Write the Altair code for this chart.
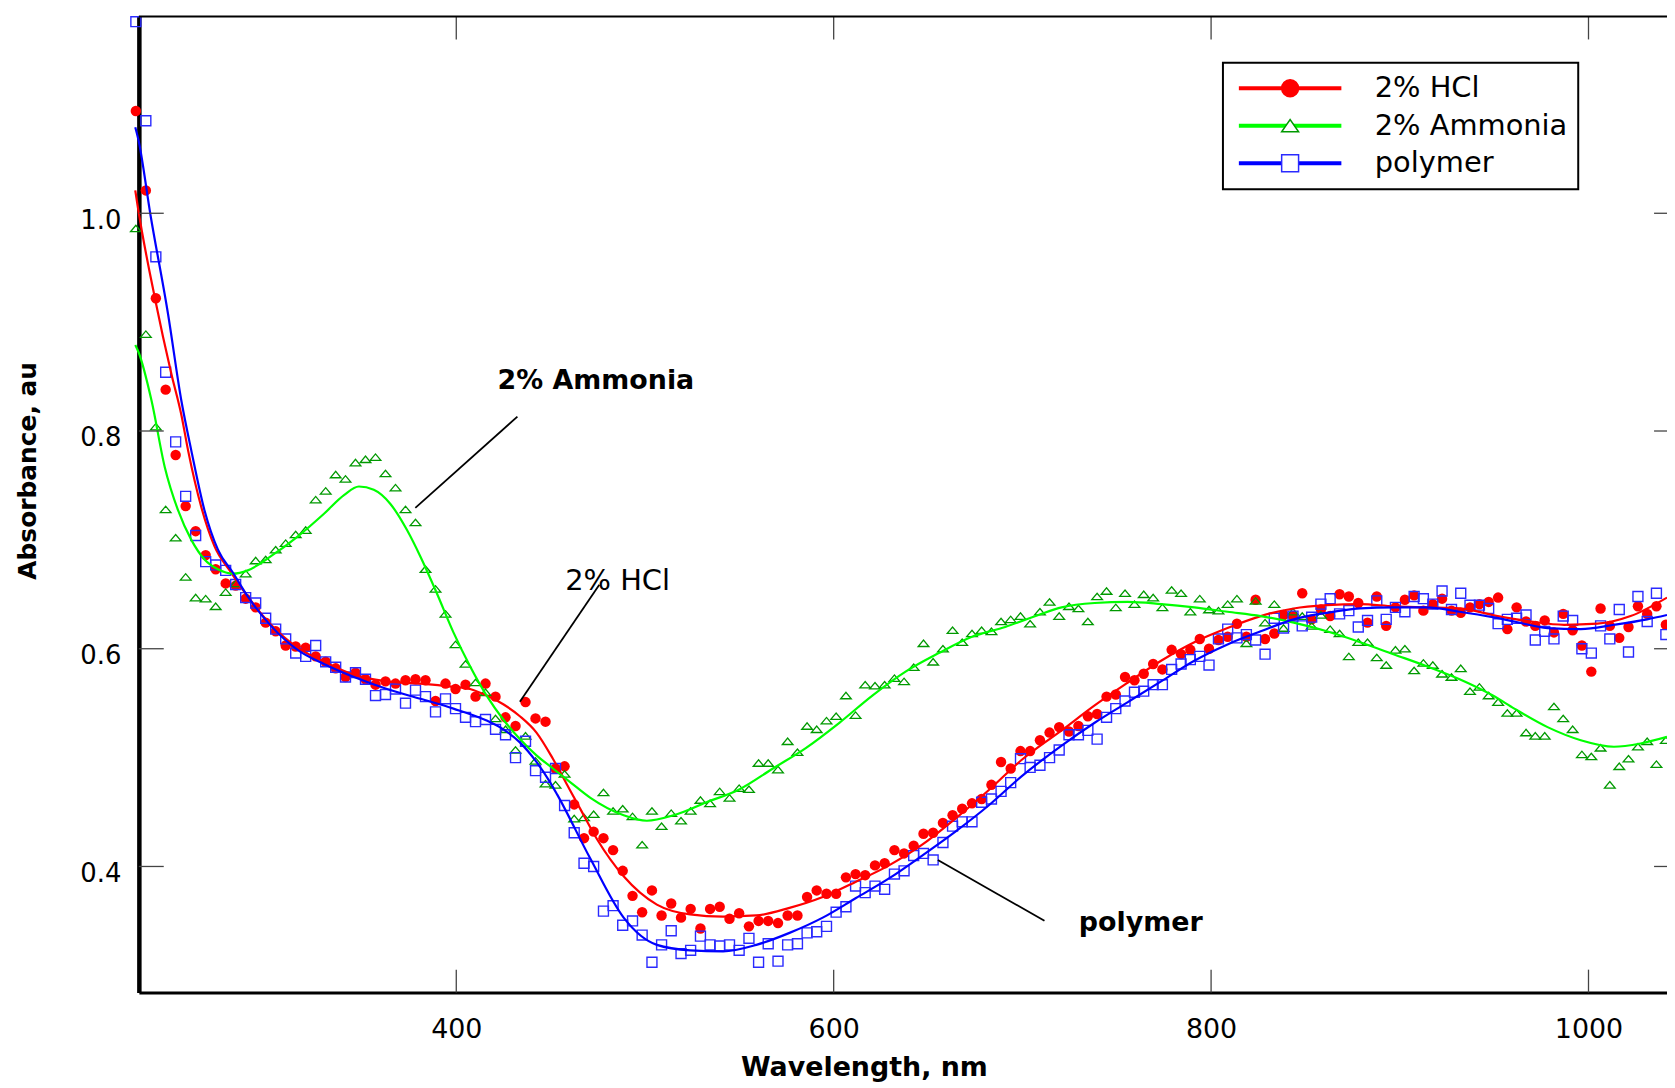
import altair as alt
import pandas as pd

# ---------------- data ----------------
wavelength_nm = [
    230.2, 235.5, 240.8, 246.0, 251.3, 256.6, 261.9, 267.2, 272.5, 277.8,
    283.1, 288.4, 293.7, 299.0, 304.3, 309.6, 314.9, 320.2, 325.5, 330.8,
    336.1, 341.3, 346.6, 351.9, 357.2, 362.5, 367.8, 373.1, 378.4, 383.7,
    389.0, 394.3, 399.6, 404.9, 410.2, 415.5, 420.8, 426.1, 431.4, 436.7,
    442.0, 447.3, 452.6, 457.4, 462.5, 467.7, 472.8, 478.0, 483.1, 488.2,
    493.4, 498.5, 503.7, 508.8, 513.9, 519.1, 524.2, 529.4, 534.5, 539.6,
    544.8, 549.9, 555.1, 560.2, 565.3, 570.5, 575.6, 580.8, 585.9, 591.0,
    596.2, 601.3, 606.5, 611.6, 616.7, 621.9, 627.0, 632.2, 637.3, 642.4,
    647.6, 652.7, 657.9, 663.0, 668.1, 673.3, 678.4, 683.6, 688.7, 693.8,
    699.0, 704.1, 709.3, 714.4, 719.5, 724.7, 729.7, 734.7, 739.6, 744.6,
    749.5, 754.4, 759.4, 764.3, 769.3, 774.2, 779.1, 784.1, 789.0, 794.0,
    798.9, 803.9, 808.8, 813.7, 818.7, 823.6, 828.6, 833.5, 838.4, 843.4,
    848.3, 853.3, 858.2, 863.1, 868.1, 873.0, 878.0, 882.9, 887.8, 892.8,
    897.7, 902.7, 907.6, 912.5, 917.5, 922.4, 927.4, 932.3, 937.2, 942.2,
    947.1, 952.1, 957.0, 961.9, 966.9, 971.8, 976.8, 981.7, 986.6, 991.6,
    996.5, 1001.5, 1006.4, 1011.3, 1016.3, 1021.2, 1026.2, 1031.1, 1036.0, 1041.0,
]

hcl_abs = [
    1.094, 1.021, 0.922, 0.838, 0.778, 0.731, 0.708, 0.686, 0.673, 0.660,
    0.658, 0.646, 0.638, 0.624, 0.616, 0.603, 0.602, 0.601, 0.593, 0.588,
    0.582, 0.574, 0.578, 0.572, 0.567, 0.570, 0.568, 0.571, 0.572, 0.571,
    0.552, 0.568, 0.563, 0.567, 0.556, 0.568, 0.556, 0.537, 0.529, 0.551,
    0.536, 0.533, 0.490, 0.492, 0.457, 0.426, 0.432, 0.426, 0.415, 0.396,
    0.373, 0.358, 0.378, 0.355, 0.366, 0.353, 0.361, 0.343, 0.361, 0.363,
    0.352, 0.357, 0.345, 0.350, 0.350, 0.348, 0.355, 0.355, 0.372, 0.378,
    0.375, 0.375, 0.390, 0.393, 0.392, 0.401, 0.403, 0.415, 0.412, 0.419,
    0.430, 0.431, 0.440, 0.447, 0.453, 0.458, 0.462, 0.475, 0.496, 0.490,
    0.506, 0.506, 0.516, 0.523, 0.528, 0.524, 0.529, 0.538, 0.540, 0.556,
    0.558, 0.574, 0.571, 0.577, 0.586, 0.581, 0.599, 0.595, 0.599, 0.609,
    0.600, 0.608, 0.611, 0.623, 0.611, 0.645, 0.609, 0.614, 0.631, 0.630,
    0.651, 0.627, 0.636, 0.630, 0.650, 0.648, 0.642, 0.624, 0.648, 0.621,
    0.638, 0.645, 0.649, 0.635, 0.641, 0.646, 0.635, 0.633, 0.638, 0.641,
    0.643, 0.647, 0.618, 0.638, 0.625, 0.621, 0.626, 0.615, 0.632, 0.617,
    0.603, 0.579, 0.637, 0.621, 0.610, 0.620, 0.639, 0.632, 0.639, 0.622,
]

ammonia_abs = [
    0.986, 0.889, 0.804, 0.728, 0.702, 0.666, 0.647, 0.646, 0.639, 0.652,
    0.660, 0.669, 0.681, 0.682, 0.691, 0.697, 0.705, 0.709, 0.737, 0.745,
    0.760, 0.756, 0.771, 0.774, 0.776, 0.761, 0.748, 0.728, 0.716, 0.673,
    0.655, 0.632, 0.604, 0.586, 0.569, 0.560, 0.536, 0.526, 0.507, 0.520,
    0.497, 0.476, 0.475, 0.485, 0.444, 0.445, 0.448, 0.468, 0.451, 0.453,
    0.446, 0.420, 0.451, 0.437, 0.449, 0.442, 0.451, 0.461, 0.458, 0.469,
    0.463, 0.472, 0.471, 0.495, 0.495, 0.489, 0.515, 0.505, 0.529, 0.526,
    0.534, 0.538, 0.557, 0.539, 0.567, 0.566, 0.567, 0.573, 0.570, 0.583,
    0.605, 0.588, 0.600, 0.617, 0.606, 0.614, 0.617, 0.616, 0.625, 0.627,
    0.630, 0.623, 0.634, 0.643, 0.630, 0.639, 0.637, 0.625, 0.648, 0.653,
    0.638, 0.651, 0.641, 0.650, 0.647, 0.638, 0.654, 0.651, 0.634, 0.646,
    0.636, 0.635, 0.641, 0.646, 0.605, 0.644, 0.624, 0.641, 0.619, 0.634,
    0.630, 0.621, 0.631, 0.618, 0.614, 0.593, 0.606, 0.606, 0.592, 0.585,
    0.599, 0.600, 0.580, 0.587, 0.585, 0.577, 0.574, 0.582, 0.561, 0.565,
    0.557, 0.551, 0.541, 0.541, 0.523, 0.520, 0.520, 0.547, 0.536, 0.526,
    0.503, 0.501, 0.509, 0.475, 0.492, 0.499, 0.510, 0.515, 0.494, 0.516,
]

polymer_abs = [
    1.176, 1.085, 0.960, 0.854, 0.790, 0.740, 0.704, 0.680, 0.677, 0.672,
    0.659, 0.647, 0.642, 0.628, 0.618, 0.609, 0.596, 0.593, 0.603, 0.588,
    0.583, 0.574, 0.578, 0.572, 0.557, 0.558, 0.563, 0.550, 0.562, 0.556,
    0.542, 0.554, 0.545, 0.537, 0.533, 0.535, 0.526, 0.521, 0.500, 0.515,
    0.488, 0.482, 0.490, 0.456, 0.431, 0.403, 0.400, 0.359, 0.364, 0.346,
    0.350, 0.337, 0.312, 0.328, 0.341, 0.320, 0.323, 0.336, 0.328, 0.327,
    0.328, 0.323, 0.334, 0.312, 0.329, 0.313, 0.328, 0.329, 0.339, 0.340,
    0.345, 0.358, 0.363, 0.382, 0.376, 0.382, 0.379, 0.393, 0.396, 0.410,
    0.412, 0.406, 0.422, 0.437, 0.441, 0.441, 0.459, 0.462, 0.469, 0.477,
    0.499, 0.491, 0.493, 0.500, 0.507, 0.521, 0.521, 0.525, 0.517, 0.537,
    0.545, 0.552, 0.560, 0.561, 0.567, 0.567, 0.581, 0.586, 0.590, 0.593,
    0.585, 0.609, 0.618, 0.610, 0.613, 0.608, 0.595, 0.628, 0.619, 0.630,
    0.621, 0.629, 0.641, 0.646, 0.632, 0.635, 0.620, 0.626, 0.644, 0.627,
    0.638, 0.634, 0.648, 0.646, 0.641, 0.653, 0.636, 0.651, 0.640, 0.640,
    0.637, 0.623, 0.627, 0.628, 0.631, 0.608, 0.616, 0.609, 0.630, 0.626,
    0.600, 0.596, 0.621, 0.609, 0.636, 0.597, 0.648, 0.625, 0.651, 0.613,
]

# smooth fitted curves
hcl_fit_nm = [229.9, 231.5, 240.3, 249.1, 254.3, 257.9, 264.9, 271.9, 280.7, 289.5,
              301.8, 315.9, 329.9, 345.8, 363.3, 381.0, 398.5, 407.3, 416.1, 424.9,
              433.7, 442.5, 451.2, 460.0, 466.0, 474.6, 488.7, 506.3, 523.9, 541.4,
              559.0, 576.6, 594.2, 611.8, 629.3, 646.9, 664.5, 682.1, 699.7, 720.8,
              738.3, 755.9, 773.5, 791.1, 808.7, 826.3, 843.8, 861.4, 879.0, 896.6,
              914.2, 931.7, 951.9, 969.5, 987.1, 1004.7, 1022.3, 1041.6]
hcl_fit_abs = [1.021, 1.003, 0.922, 0.852, 0.815, 0.782, 0.730, 0.694, 0.670, 0.648,
               0.622, 0.601, 0.588, 0.576, 0.570, 0.568, 0.565, 0.563, 0.557, 0.549,
               0.538, 0.523, 0.499, 0.471, 0.452, 0.425, 0.391, 0.365, 0.356, 0.354,
               0.355, 0.362, 0.372, 0.386, 0.401, 0.420, 0.444, 0.470, 0.498, 0.525,
               0.548, 0.569, 0.589, 0.606, 0.619, 0.630, 0.637, 0.640, 0.641, 0.639,
               0.638, 0.637, 0.630, 0.625, 0.622, 0.623, 0.630, 0.647]

ammonia_fit_nm = [229.9, 231.5, 238.5, 245.5, 252.6, 259.6, 266.6, 273.7, 281.6, 289.5,
                  301.8, 315.9, 329.9, 340.5, 348.4, 356.3, 365.1, 373.9, 380.9, 389.7,
                  398.5, 407.3, 416.1, 424.9, 433.7, 442.5, 451.2, 460.0, 471.1, 488.7,
                  501.0, 515.1, 532.6, 550.2, 567.8, 585.4, 603.0, 620.5, 638.1, 655.7,
                  673.3, 690.9, 708.5, 720.8, 738.3, 755.9, 773.5, 791.1, 808.7, 826.3,
                  843.8, 861.4, 879.0, 896.6, 914.2, 931.7, 949.3, 960.7, 978.3, 995.9,
                  1013.5, 1027.6, 1041.6]
ammonia_fit_abs = [0.879, 0.873, 0.828, 0.767, 0.727, 0.700, 0.682, 0.673, 0.669, 0.672,
                   0.685, 0.703, 0.724, 0.741, 0.749, 0.746, 0.733, 0.709, 0.685, 0.651,
                   0.615, 0.584, 0.557, 0.535, 0.517, 0.502, 0.490, 0.478, 0.463, 0.447,
                   0.442, 0.447, 0.459, 0.471, 0.490, 0.509, 0.532, 0.557, 0.579, 0.596,
                   0.611, 0.620, 0.631, 0.638, 0.642, 0.643, 0.641, 0.638, 0.634, 0.630,
                   0.624, 0.616, 0.606, 0.595, 0.584, 0.572, 0.557, 0.545, 0.528, 0.516,
                   0.510, 0.513, 0.519]

polymer_fit_nm = [229.9, 231.5, 238.0, 247.3, 254.3, 259.6, 266.6, 273.7, 281.6, 289.5,
                  301.8, 315.9, 329.9, 345.8, 363.3, 381.0, 398.5, 416.1, 424.9, 433.7,
                  442.5, 449.5, 453.5, 471.1, 488.7, 506.3, 523.9, 541.4, 559.0, 576.6,
                  594.2, 611.8, 629.3, 646.9, 664.5, 682.1, 699.7, 720.8, 738.3, 755.9,
                  773.5, 791.1, 808.7, 826.3, 843.8, 861.4, 879.0, 896.6, 914.2, 931.7,
                  949.3, 960.7, 978.3, 995.9, 1013.5, 1031.1, 1041.6]
polymer_fit_abs = [1.079, 1.068, 0.998, 0.907, 0.828, 0.782, 0.727, 0.691, 0.670, 0.648,
                   0.621, 0.599, 0.586, 0.574, 0.563, 0.554, 0.545, 0.534, 0.526, 0.514,
                   0.496, 0.478, 0.466, 0.407, 0.353, 0.328, 0.323, 0.322, 0.328, 0.339,
                   0.353, 0.371, 0.389, 0.410, 0.432, 0.456, 0.483, 0.511, 0.532, 0.551,
                   0.570, 0.589, 0.604, 0.616, 0.627, 0.633, 0.637, 0.638, 0.638, 0.634,
                   0.629, 0.625, 0.619, 0.618, 0.622, 0.627, 0.631]

series_names = ["2% HCl", "2% Ammonia", "polymer"]
line_colors = ["#ff0000", "#00ff00", "#0000ff"]
marker_keys = ["hcl-marker", "ammonia-marker", "polymer-marker"]
marker_shapes = ["circle", "M-1,0.72L1,0.72L0,-0.72Z", "square"]
marker_strokes = ["#ff0000", "#009900", "#2a2aff"]
marker_fills = ["#ff0000", "#ffffff", "#ffffff"]

x_ticks = [400, 600, 800, 1000]
y_ticks = [0.4, 0.6, 0.8, 1.0]

ann_text = ["2% Ammonia", "2% HCl", "polymer"]
ann_nm = [474.0, 485.5, 762.7]
ann_abs = [0.8388, 0.6542, 0.3407]
ptr_nm = [432.4, 475.8, 655.2]
ptr_abs = [0.8132, 0.6588, 0.4059]
ptr_nm2 = [378.3, 433.7, 711.7]
ptr_abs2 = [0.7294, 0.5512, 0.3501]

# ---------------- layout ----------------
X_DOMAIN = [231.8, 1041.6]
Y_DOMAIN = [0.2842, 1.1807]
W = 1535.5
H = 980.7
FONT = "DejaVu Sans"

xs = alt.Scale(domain=X_DOMAIN, nice=False, zero=False)
ys = alt.Scale(domain=Y_DOMAIN, nice=False, zero=False)

x_axis = alt.Axis(values=x_ticks, format="d", ticks=False, tickSize=0, grid=False,
                  labelFont=FONT, labelFontSize=27, labelColor="black",
                  labelBaseline="alphabetic", labelPadding=45, labelFlush=False,
                  domainColor="black", domainWidth=3,
                  title="Wavelength, nm", titleFont=FONT, titleFontSize=27,
                  titleFontWeight="bold", titleColor="black",
                  titleX=728.5, titleY=83.5, titleBaseline="alphabetic", titleAlign="center")
y_axis = alt.Axis(values=y_ticks, format=".1f", ticks=False, tickSize=0, grid=False,
                  labelFont=FONT, labelFontSize=26, labelColor="black",
                  labelBaseline="alphabetic", labelOffset=15, labelPadding=18,
                  domainColor="black", domainWidth=4.5,
                  title="Absorbance, au", titleFont=FONT, titleFontSize=25,
                  titleFontWeight="bold", titleColor="black", titleAngle=270,
                  titleX=-104, titleY=456, titleBaseline="alphabetic", titleAlign="center")


def X(field):
    return alt.X(field, scale=xs, axis=x_axis)


def Y(field):
    return alt.Y(field, scale=ys, axis=y_axis)


def pts(vals):
    return pd.DataFrame({"nm": wavelength_nm, "abs": vals})


# markers
hcl_pts = alt.Chart(pts(hcl_abs)).mark_point(
    shape="circle", filled=True, color="#ff0000", size=110, opacity=1
).encode(x=X("nm:Q"), y=Y("abs:Q"))

amm_pts = alt.Chart(pts(ammonia_abs)).mark_point(
    shape="M-1,0.6L1,0.6L0,-0.6Z", filled=False, stroke="#009900", strokeWidth=1.3,
    size=115, opacity=1
).encode(x=X("nm:Q"), y=Y("abs:Q"))

pol_pts = alt.Chart(pts(polymer_abs)).mark_point(
    shape="square", filled=False, stroke="#2a2aff", strokeWidth=1.4, size=100, opacity=1
).encode(x=X("nm:Q"), y=Y("abs:Q"))

# fitted curves
fit_df = pd.concat([
    pd.DataFrame({"nm": hcl_fit_nm, "abs": hcl_fit_abs, "series": series_names[0]}),
    pd.DataFrame({"nm": ammonia_fit_nm, "abs": ammonia_fit_abs, "series": series_names[1]}),
    pd.DataFrame({"nm": polymer_fit_nm, "abs": polymer_fit_abs, "series": series_names[2]}),
])

legend_common = dict(orient="none", legendX=1089.3, legendY=46.5, title=None,
                     padding=10, clipHeight=31.2, rowPadding=5.65,
                     labelFont=FONT, labelFontSize=29, labelLimit=400)

legend_lines = alt.Legend(symbolType="stroke", symbolSize=10609, symbolStrokeWidth=4,
                          symbolOffset=4, labelOffset=31.5, labelColor="black",
                          strokeColor="black", **legend_common)

curves = alt.Chart(fit_df).mark_line(interpolate="monotone", strokeWidth=2.2).encode(
    x=X("nm:Q"),
    y=Y("abs:Q"),
    color=alt.Color("series:N", scale=alt.Scale(domain=series_names, range=line_colors),
                    legend=legend_lines),
    detail="series:N",
)

# legend markers (points kept outside the view; only their legend is seen)
legend_marks = alt.Legend(symbolSize=289, symbolStrokeWidth=1.5, symbolOffset=43,
                          symbolOpacity=1, labelExpr="''", **legend_common)
mk_df = pd.DataFrame({"key": marker_keys, "nm": [150.0] * 3, "abs": [0.5] * 3})
marker_legend = alt.Chart(mk_df).mark_point(clip=True, opacity=1, size=289).encode(
    x=X("nm:Q"),
    y=Y("abs:Q"),
    shape=alt.Shape("key:N", scale=alt.Scale(domain=marker_keys, range=marker_shapes),
                    legend=legend_marks),
    stroke=alt.Stroke("key:N", scale=alt.Scale(domain=marker_keys, range=marker_strokes),
                      legend=legend_marks),
    fill=alt.Fill("key:N", scale=alt.Scale(domain=marker_keys, range=marker_fills),
                  legend=legend_marks),
)

# inward ticks and top frame
xt = pd.DataFrame({"t": x_ticks})
yt = pd.DataFrame({"t": y_ticks})
tick_style = dict(color="#444444", strokeWidth=1.3)
ticks_bottom = alt.Chart(xt).mark_rule(**tick_style).encode(
    x=X("t:Q"), y=alt.value(H), y2=alt.value(H - 23))
ticks_top = alt.Chart(xt).mark_rule(**tick_style).encode(
    x=X("t:Q"), y=alt.value(0), y2=alt.value(23))
ticks_left = alt.Chart(yt).mark_rule(**tick_style).encode(
    y=Y("t:Q"), x=alt.value(0), x2=alt.value(25))
ticks_right = alt.Chart(yt).mark_rule(**tick_style).encode(
    y=Y("t:Q"), x=alt.value(W - 13), x2=alt.value(W))
top_frame = alt.Chart(pd.DataFrame({"lo": [X_DOMAIN[0]], "hi": [X_DOMAIN[1]]})).mark_rule(
    color="black", strokeWidth=2).encode(x=X("lo:Q"), x2="hi:Q", y=alt.value(0))

# annotations
ann_df = pd.DataFrame({"label": ann_text, "nm": ann_nm, "abs": ann_abs})
ptr_df = pd.DataFrame({"nm": ptr_nm, "abs": ptr_abs, "nm2": ptr_nm2, "abs2": ptr_abs2})
pointers = alt.Chart(ptr_df).mark_rule(color="black", strokeWidth=1.8).encode(
    x=X("nm:Q"), y=Y("abs:Q"), x2="nm2:Q", y2="abs2:Q")


def ann(i, weight, size):
    return alt.Chart(ann_df.iloc[[i]]).mark_text(
        font=FONT, fontSize=size, fontWeight=weight, color="black",
        align="center", baseline="alphabetic"
    ).encode(x=X("nm:Q"), y=Y("abs:Q"), text="label:N")


chart = alt.layer(
    hcl_pts, amm_pts, pol_pts, curves, marker_legend,
    ticks_bottom, ticks_top, ticks_left, ticks_right, top_frame,
    pointers, ann(0, "bold", 27), ann(1, "normal", 29), ann(2, "bold", 27),
).properties(
    width=W, height=H, autosize="none",
    padding={"left": 131.5, "top": 6, "right": 0, "bottom": 90},
).configure_view(stroke=None).configure_legend(strokeWidth=2)

chart.save("out.html", embed_options={"renderer": "svg", "actions": False})
